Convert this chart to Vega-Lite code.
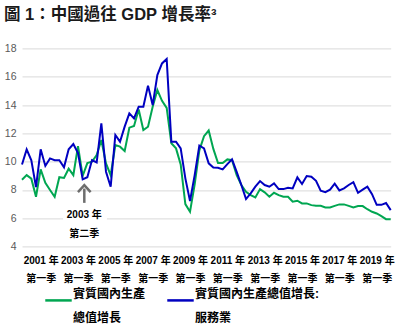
{
  "$schema": "https://vega.github.io/schema/vega-lite/v6.json",
  "autosize": "none",
  "width": 368.7,
  "height": 198.2,
  "padding": {"left": 22, "top": 48.4, "right": 15.3, "bottom": 83.4},
  "background": "white",
  "title": {
    "text": "圖 1：中國過往 GDP 增長率³",
    "anchor": "start",
    "frame": "group",
    "dx": -18,
    "offset": 20,
    "font": "Liberation Sans, 'Noto Sans CJK TC'",
    "fontSize": 16.5,
    "fontWeight": "bold",
    "color": "#1a1a1a"
  },
  "config": {
    "view": {"stroke": null},
    "font": "Liberation Sans, 'Noto Sans CJK TC'",
    "axisY": {"tickCount": 8, "labelOverlap": false}
  },
  "layer": [
    {
      "data": {"values": [
        {"i":0,"GDP":8.72,"服務業":9.8},{"i":1,"GDP":9.05,"服務業":10.87},{"i":2,"GDP":8.8,"服務業":10.1},{"i":3,"GDP":7.52,"服務業":8.2},
        {"i":4,"GDP":9.45,"服務業":10.87},{"i":5,"GDP":8.5,"服務業":9.7},{"i":6,"GDP":8.0,"服務業":10.23},{"i":7,"GDP":7.52,"服務業":10.1},
        {"i":8,"GDP":8.9,"服務業":10.1},{"i":9,"GDP":8.85,"服務業":9.6},{"i":10,"GDP":9.5,"服務業":10.87},{"i":11,"GDP":9.05,"服務業":11.24},
        {"i":12,"GDP":11.1,"服務業":10.6},{"i":13,"GDP":9.0,"服務業":8.75},{"i":14,"GDP":9.9,"服務業":8.9},{"i":15,"GDP":10.0,"服務業":10.11},
        {"i":16,"GDP":10.46,"服務業":9.95},{"i":17,"GDP":11.53,"服務業":12.7},{"i":18,"GDP":9.88,"服務業":9.29},{"i":19,"GDP":9.05,"服務業":8.23},
        {"i":20,"GDP":11.17,"服務業":11.88},{"i":21,"GDP":11.06,"服務業":11.41},{"i":22,"GDP":10.75,"服務業":12.47},{"i":23,"GDP":12.4,"服務業":13.41},
        {"i":24,"GDP":12.52,"服務業":13.06},{"i":25,"GDP":13.69,"服務業":13.88},{"i":26,"GDP":12.23,"服務業":13.88},{"i":27,"GDP":12.47,"服務業":15.37},
        {"i":28,"GDP":13.88,"服務業":14.0},{"i":29,"GDP":15.06,"服務業":16.12},{"i":30,"GDP":14.3,"服務業":16.94},{"i":31,"GDP":13.8,"服務業":17.25},
        {"i":32,"GDP":11.3,"服務業":11.41},{"i":33,"GDP":10.94,"服務業":11.41},{"i":34,"GDP":9.8,"服務業":10.94},{"i":35,"GDP":7.0,"服務業":8.82},
        {"i":36,"GDP":6.46,"服務業":7.22},{"i":37,"GDP":8.4,"服務業":9.05},{"i":38,"GDP":10.8,"服務業":11.14},{"i":39,"GDP":11.8,"服務業":10.94},
        {"i":40,"GDP":12.2,"服務業":9.88},{"i":41,"GDP":10.9,"服務業":9.59},{"i":42,"GDP":9.9,"服務業":9.57},{"i":43,"GDP":9.9,"服務業":9.45},
        {"i":44,"GDP":10.16,"服務業":9.83},{"i":45,"GDP":10.1,"服務業":10.16},{"i":46,"GDP":9.05,"服務業":9.28},{"i":47,"GDP":8.35,"服務業":8.35},
        {"i":48,"GDP":7.87,"服務業":7.36},{"i":49,"GDP":7.64,"服務業":7.76},{"i":50,"GDP":7.47,"服務業":8.23},{"i":51,"GDP":8.06,"服務業":8.63},
        {"i":52,"GDP":7.83,"服務業":8.35},{"i":53,"GDP":7.52,"服務業":8.23},{"i":54,"GDP":7.8,"服務業":8.46},{"i":55,"GDP":7.64,"服務業":8.06},
        {"i":56,"GDP":7.52,"服務業":8.06},{"i":57,"GDP":7.52,"服務業":8.16},{"i":58,"GDP":7.17,"服務業":8.11},{"i":59,"GDP":7.24,"服務業":8.89},
        {"i":60,"GDP":7.05,"服務業":8.42},{"i":61,"GDP":7.05,"服務業":8.98},{"i":62,"GDP":6.93,"服務業":8.94},{"i":63,"GDP":6.88,"服務業":8.65},
        {"i":64,"GDP":6.88,"服務業":7.95},{"i":65,"GDP":6.76,"服務業":7.84},{"i":66,"GDP":6.76,"服務業":8.02},{"i":67,"GDP":6.88,"服務業":8.44},
        {"i":68,"GDP":6.98,"服務業":7.97},{"i":69,"GDP":6.98,"服務業":8.11},{"i":70,"GDP":6.88,"服務業":8.35},{"i":71,"GDP":6.76,"服務業":8.55},
        {"i":72,"GDP":6.86,"服務業":7.8},{"i":73,"GDP":6.86,"服務業":8.02},{"i":74,"GDP":6.64,"服務業":8.23},{"i":75,"GDP":6.46,"服務業":7.7},
        {"i":76,"GDP":6.34,"服務業":6.95},{"i":77,"GDP":6.15,"服務業":6.95},{"i":78,"GDP":5.94,"服務業":7.08},{"i":79,"GDP":5.94,"服務業":6.58}
      ]},
      "transform": [{"fold": ["GDP", "服務業"], "as": ["series", "v"]}],
      "mark": {"type": "line", "strokeWidth": 2, "interpolate": "linear"},
      "encoding": {
        "x": {
          "field": "i", "type": "quantitative",
          "scale": {"domain": [0, 79], "nice": false, "zero": false},
          "axis": {
            "title": null, "grid": false, "ticks": false, "domain": false,
            "values": [4, 12, 20, 28, 36, 44, 52, 60, 68, 76],
            "labelExpr": "[(2000 + datum.value / 4) + ' 年', '第一季']",
            "labelFont": "Liberation Sans, 'Noto Sans CJK TC'",
            "labelFontSize": 10,
            "labelFontWeight": "bold",
            "labelColor": "#000000",
            "labelLineHeight": 18.4,
            "labelPadding": 9,
            "labelDx": 2,
            "labelOverlap": false,
            "labelFlush": false
          }
        },
        "y": {
          "field": "v", "type": "quantitative",
          "scale": {"domain": [4, 18], "nice": false, "zero": false},
          "axis": {
            "title": null, "domain": false, "ticks": false,
            "values": [4, 6, 8, 10, 12, 14, 16, 18],
            "labelOverlap": false,
            "gridColor": "#d9d9d9", "gridWidth": 1,
            "labelFont": "Liberation Sans",
            "labelFontSize": 10.5,
            "labelColor": "#595959",
            "labelPadding": 6
          }
        },
        "color": {
          "field": "series", "type": "nominal",
          "scale": {"domain": ["GDP", "服務業"], "range": ["#00a651", "#0000c0"]},
          "legend": {
            "title": null,
            "orient": "none",
            "legendX": 22,
            "legendY": 228,
            "direction": "horizontal",
            "symbolType": "M-1,0.7L1,0.7",
            "symbolSize": 700,
            "symbolStrokeWidth": 2.5,
            "symbolFillColor": "transparent",
            "labelFont": "Liberation Sans, 'Noto Sans CJK TC'",
            "labelFontSize": 12,
            "labelFontWeight": "bold",
            "labelColor": "#000000",
            "labelOffset": 0,
            "labelLimit": 300,
            "columnPadding": 16,
            "labelExpr": "datum.value == 'GDP' ? ['實質國內生產', '總值增長'] : ['實質國內生產總值增長:', '服務業']",
            "encode": {
              "labels": {"update": {"lineHeight": {"value": 24}, "dy": {"value": 3}}}
            }
          }
        }
      }
    },
    {
      "data": {"values": [{"x1": 8.8, "x2": 18.2, "y1": 4.5, "y2": 6.9}]},
      "mark": {"type": "rect", "fill": "white"},
      "encoding": {
        "x": {"field": "x1", "type": "quantitative", "axis": {"values": [4, 12, 20, 28, 36, 44, 52, 60, 68, 76]}},
        "x2": {"field": "x2"},
        "y": {"field": "y1", "type": "quantitative", "axis": {"values": [4, 6, 8, 10, 12, 14, 16, 18]}},
        "y2": {"field": "y2"}
      }
    },
    {
      "data": {"values": [{"x": 13.35, "y1": 8.1, "y2": 7.09}]},
      "mark": {"type": "rule", "stroke": "#6d6d6d", "strokeWidth": 2.5},
      "encoding": {
        "x": {"field": "x", "type": "quantitative", "axis": {"values": [4, 12, 20, 28, 36, 44, 52, 60, 68, 76]}},
        "y": {"field": "y1", "type": "quantitative", "axis": {"values": [4, 6, 8, 10, 12, 14, 16, 18]}},
        "y2": {"field": "y2"}
      }
    },
    {
      "data": {"values": [{"x": 13.35, "y": 8.1}]},
      "mark": {"type": "point", "shape": "M-1,0.55L0,-0.55L1,0.55", "filled": false, "stroke": "#6d6d6d", "strokeWidth": 2.5, "size": 160, "opacity": 1},
      "encoding": {
        "x": {"field": "x", "type": "quantitative", "axis": {"values": [4, 12, 20, 28, 36, 44, 52, 60, 68, 76]}},
        "y": {"field": "y", "type": "quantitative", "axis": {"values": [4, 6, 8, 10, 12, 14, 16, 18]}}
      }
    },
    {
      "data": {"values": [{"x": 13.35, "y": 6.2, "t": "2003 年"}, {"x": 13.35, "y": 4.9, "t": "第二季"}]},
      "mark": {"type": "text", "font": "Liberation Sans, 'Noto Sans CJK TC'", "fontSize": 10, "fontWeight": "bold", "color": "#000000", "baseline": "middle", "align": "center"},
      "encoding": {
        "x": {"field": "x", "type": "quantitative", "axis": {"values": [4, 12, 20, 28, 36, 44, 52, 60, 68, 76]}},
        "y": {"field": "y", "type": "quantitative", "axis": {"values": [4, 6, 8, 10, 12, 14, 16, 18]}},
        "text": {"field": "t"}
      }
    }
  ]
}
